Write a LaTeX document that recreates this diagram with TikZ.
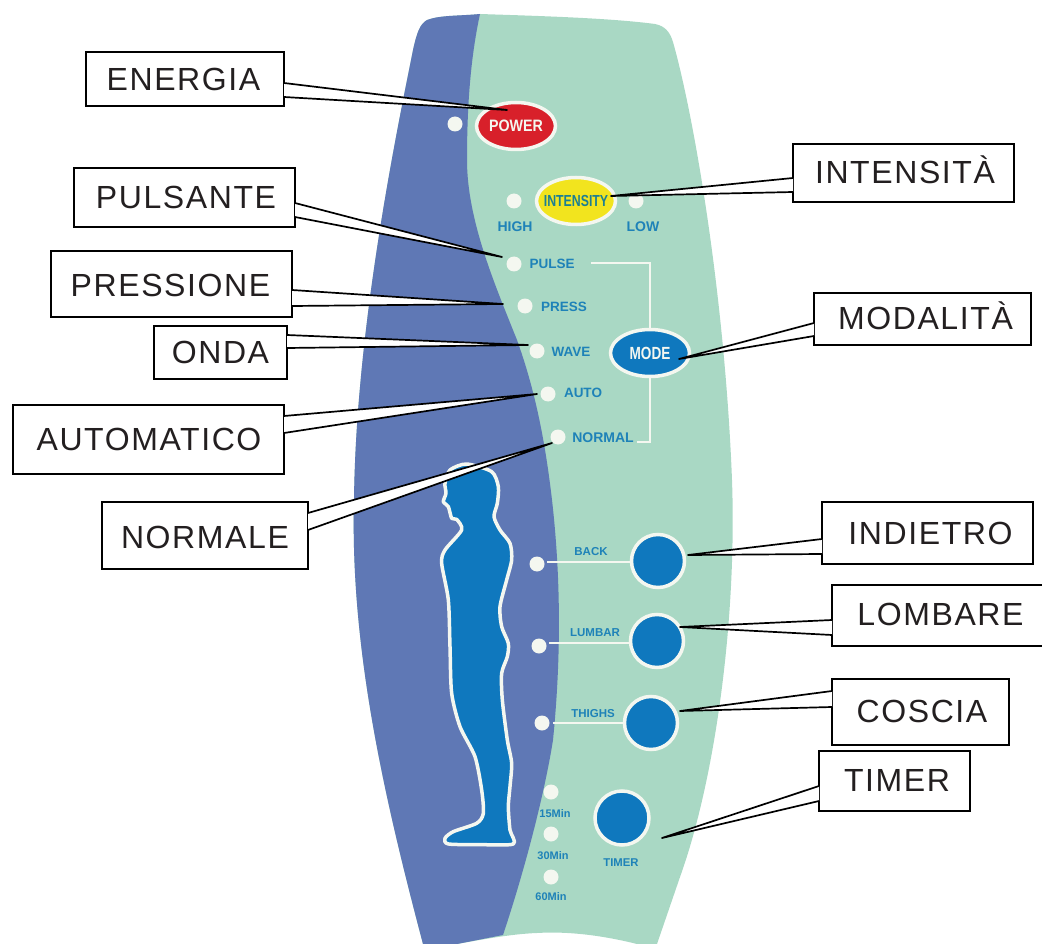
\documentclass[tikz,border=0pt]{standalone}
\usepackage{fontspec}
\usetikzlibrary{shapes.geometric,calc}
\setmainfont{Liberation Sans}
\newfontfamily\calloutfont[LetterSpace=5]{Liberation Sans}
\definecolor{panelgreen}{HTML}{A9D8C4}
\definecolor{panelblue}{HTML}{5F78B5}
\definecolor{btnblue}{HTML}{0F78BE}
\definecolor{btnred}{HTML}{D8202A}
\definecolor{btnyellow}{HTML}{F2E41E}
\definecolor{lblblue}{HTML}{1E82B8}
\definecolor{lblteal}{HTML}{1D7F92}
\definecolor{softwhite}{HTML}{F4F7F0}
\definecolor{inkdark}{HTML}{231F20}
\tikzset{
  calloutbox/.style={draw=black,fill=white,line width=1.7pt,inner sep=0pt,outer sep=0pt},
  callouttext/.style={anchor=base,inner sep=0pt,outer sep=0pt,text=inkdark,font=\calloutfont\fontsize{32}{32}\selectfont},
  leader/.style={draw=black,line width=1.7pt,line join=round},
  led/.style={circle,fill=softwhite,minimum size=15pt,inner sep=0pt,outer sep=0pt},
  roundbtn/.style={circle,draw=softwhite,line width=3.5pt,fill=btnblue,minimum size=53pt,inner sep=0pt,outer sep=1.7pt},
  ovalbtn/.style={ellipse,draw=softwhite,line width=3.5pt,minimum width=79pt,minimum height=47pt,inner sep=0pt,outer sep=1.7pt},
  ovaltext/.style={inner sep=0pt,outer sep=0pt,font=\bfseries\fontsize{#1}{#1}\selectfont},
  small/.style={inner sep=0pt,outer sep=0pt,text=lblblue,font=\bfseries\fontsize{#1}{#1}\selectfont},
  small/.default=14,
  wire/.style={draw=softwhite,line width=2.5pt}
}
% name, left, top, right, bottom, text x, baseline, text
\newcommand{\calloutbox}[8]{%
  \node[calloutbox,minimum width={(#4-#2)*1pt},minimum height={(#5-#3)*1pt}] (b#1) at ({(#2+#4)/2},{(#3+#5)/2}) {};
  \node[callouttext] (t#1) at (#6,#7) {#8};
}
% name, corner anchor of box, offset 1, offset 2, tip x, tip y
\newcommand{\pointer}[6]{%
  \coordinate (tip#1) at (#5,#6);
  \fill[white] ($(b#1.#2)+(0,#3)$) -- (tip#1) -- ($(b#1.#2)+(0,#4)$) -- cycle;
  \draw[leader] ($(b#1.#2)+(0,#3)$) -- (tip#1) -- ($(b#1.#2)+(0,#4)$);
}
\begin{document}
\begin{tikzpicture}[x=1pt,y=-1pt]
\useasboundingbox (0,0) rectangle (1042,944);
\begin{scope}
\clip (0,0) rectangle (1042,944);
% panel
\fill[panelgreen] (427,20) .. controls (440,15) and (460,16) .. (480,14)
  .. controls (540,16) and (610,18) .. (655,24)
  .. controls (665,26) and (670,32) .. (673,42)
  .. controls (695,120) and (725,300) .. (732,480)
  .. controls (737,620) and (715,780) .. (680,877)
  -- (657,944) -- (637,944)
  .. controls (605,936) and (570,931) .. (537,933)
  .. controls (510,934) and (480,940) .. (457,944)
  -- (423,944)
  .. controls (385,800) and (350,650) .. (354,500)
  .. controls (356,330) and (395,140) .. (413,50)
  .. controls (417,32) and (420,24) .. (427,20) -- cycle;
\fill[panelblue] (427,20) .. controls (440,15) and (460,16) .. (480,14)
  .. controls (470,60) and (467,110) .. (467,160)
  .. controls (467,220) and (495,285) .. (517,340)
  .. controls (535,390) and (545,440) .. (552,500)
  .. controls (560,570) and (562,650) .. (553,740)
  .. controls (546,785) and (528,860) .. (503,935)
  -- (457,944) -- (423,944)
  .. controls (385,800) and (350,650) .. (354,500)
  .. controls (356,330) and (395,140) .. (413,50)
  .. controls (417,32) and (420,24) .. (427,20) -- cycle;
% body figure
\begin{scope}[shift={(420,440)},x=0.3333pt,y=-0.3333pt]
\draw[draw=softwhite,line width=3.5pt,fill=btnblue,line join=round]
  plot[smooth cycle,tension=0.45] coordinates {
   (140,72) (215,95) (235,140) (232,190) (222,230) (240,270) (270,310) (275,360)
   (260,420) (240,500) (245,560) (265,610) (262,650) (245,700) (247,780) (262,900)
   (275,970) (270,1040) (265,1100) (270,1170) (280,1212) (180,1214) (85,1212) (75,1195)
   (100,1175) (170,1150) (190,1120) (185,1050) (165,950) (120,860) (95,760) (90,620)
   (85,480) (65,370) (75,330) (125,270) (110,238) (95,235) (85,200) (70,185)
   (78,160) (75,130) (90,90)};
\end{scope}
% buttons
\node[ovalbtn,fill=btnred] (power) at (516,126) {};
\node[ovalbtn,fill=btnyellow] (intensity) at (576,201) {};
\node[ovalbtn,fill=btnblue] (mode) at (650,353) {};
\node[ovaltext=15,text=softwhite] (tpower) at (power) {\scalebox{.95}[1.1]{POWER}};
\node[ovaltext=16,text=lblteal] (tintensity) at (intensity) {\scalebox{.77}[1]{INTENSITY}};
\node[ovaltext=16,text=softwhite] (tmode) at (mode) {\scalebox{.85}[1.1]{MODE}};
\node[roundbtn] (back) at (658,561) {};
\node[roundbtn] (lumbar) at (657,641) {};
\node[roundbtn] (thighs) at (651,723) {};
\node[roundbtn,minimum size=54pt] (timer) at (622,818) {};
% LEDs
\node[led] (lpower) at (455,124) {};
\node[led] (lhigh) at (514,201) {};
\node[led] (llow) at (636,201) {};
\node[led] (lpulse) at (514,264) {};
\node[led] (lpress) at (525,306) {};
\node[led] (lwave) at (537,351) {};
\node[led] (lauto) at (548,394) {};
\node[led] (lnormal) at (558,437) {};
\node[led] (lback) at (537,564) {};
\node[led] (llumbar) at (539,646) {};
\node[led] (lthighs) at (542,723) {};
\node[led] (l15) at (551,792) {};
\node[led] (l30) at (551,834) {};
\node[led] (l60) at (551,877) {};
% small labels
\node[small] (thigh) at (515,227) {HIGH};
\node[small] (tlow) at (643,227) {LOW};
\node[small=13.5] (tpulse) at (552,264) {PULSE};
\node[small=13.5] (tpress) at (564,307) {PRESS};
\node[small=13.5] (twave) at (571,352) {WAVE};
\node[small=13.5] (tauto) at (583,393) {AUTO};
\node[small=14] (tnormal) at (603,438) {NORMAL};
\node[small=11.5] (tback) at (591,552) {BACK};
\node[small=11.5] (tlumbar) at (595,633) {LUMBAR};
\node[small=11.5] (tthighs) at (593,714) {THIGHS};
\node[small=11] (t15) at (555,814) {15Min};
\node[small=11] (t30) at (553,856) {30Min};
\node[small=11] (t60) at (551,897) {60Min};
\node[small=11.3] (ttimer) at (621,863) {TIMER};
% wires
\coordinate (pulseend) at (591,263);
\coordinate (normalend) at (637,442);
\draw[wire] (pulseend) -- (mode.north |- pulseend) -- (mode.north);
\draw[wire] (mode.south) -- (mode.south |- normalend) -- (normalend);
\coordinate (backend) at (547,562);
\coordinate (lumbarend) at (549,643);
\coordinate (thighsend) at (553,723);
\draw[wire] (backend) -- (back.west |- backend);
\draw[wire] (lumbarend) -- (lumbar.west |- lumbarend);
\draw[wire] (thighsend) -- (thighs.west |- thighsend);
% callouts
\calloutbox{E}{86}{52}{284}{106}{183.5}{91}{ENERGIA}
\calloutbox{P}{74}{168}{295}{227}{186}{209}{PULSANTE}
\calloutbox{R}{51}{251}{292}{317}{170.5}{296}{PRESSIONE}
\calloutbox{O}{154}{326}{287}{379}{220.5}{363}{ONDA}
\calloutbox{A}{13}{405}{284}{474}{149}{450}{AUTOMATICO}
\calloutbox{N}{102}{502}{308}{569}{205}{548}{NORMALE}
\calloutbox{I}{793}{144}{1014}{202}{905}{184}{INTENSITÀ}
\calloutbox{M}{814}{293}{1031}{345}{925.5}{329}{MODALITÀ}
\calloutbox{D}{822}{502}{1033}{564}{930.5}{544}{INDIETRO}
\calloutbox{L}{832}{585}{1060}{646}{940.5}{625}{LOMBARE}
\calloutbox{C}{832}{679}{1009}{745}{922}{722}{COSCIA}
\calloutbox{T}{819}{751}{970}{811}{897}{791}{TIMER}
\pointer{E}{north east}{31}{45}{507}{110}
\pointer{P}{north east}{35}{49}{502}{257}
\pointer{R}{north east}{39}{55}{503}{304}
\pointer{O}{north east}{9}{22}{528}{345}
\pointer{A}{north east}{11}{28}{537}{394}
\pointer{N}{north east}{11}{28}{552}{443}
\pointer{I}{north west}{34}{48}{611}{196}
\pointer{M}{north west}{30}{43}{679}{359}
\pointer{D}{north west}{37}{52}{688}{555}
\pointer{L}{north west}{35}{50}{680}{627}
\pointer{C}{north west}{12}{28}{680}{711}
\pointer{T}{north west}{35}{50}{662}{838}
\end{scope}
\end{tikzpicture}
\end{document}
